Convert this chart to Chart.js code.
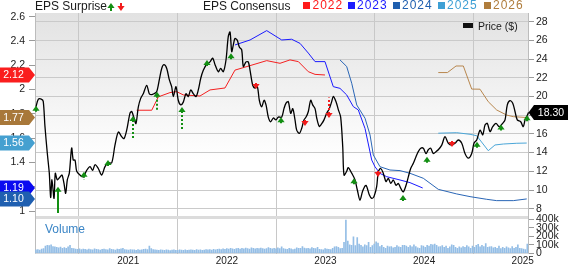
<!DOCTYPE html>
<html><head><meta charset="utf-8">
<script src="https://cdn.jsdelivr.net/npm/chart.js@4.4.1/dist/chart.umd.min.js"></script>
<style>
html,body{margin:0;padding:0;background:#fff;}
#wrap{position:relative;width:568px;height:264px;overflow:hidden;font-family:"Liberation Sans",Arial,sans-serif;}
#c{position:absolute;left:0;top:0;}
.t{position:absolute;white-space:nowrap;line-height:12px;font-size:12px;color:#1a1a1a;}
.sq{position:absolute;width:7px;height:7px;}
</style></head><body>
<div id="wrap">
<canvas id="c" width="568" height="264"></canvas>
<div class="t" style="left:35px;top:-0.2px;">EPS Surprise</div>
<div class="t" style="left:203px;top:-0.2px;">EPS Consensus</div>
<div class="sq" style="left:303px;top:1.7px;background:#ff1a1a"></div>
<div class="t" style="left:312.5px;top:-0.7px;color:#ff1a1a;letter-spacing:1px">2022</div>
<div class="sq" style="left:348px;top:1.7px;background:#1a1aff"></div>
<div class="t" style="left:357px;top:-0.7px;color:#1a1aff;letter-spacing:1px">2023</div>
<div class="sq" style="left:393px;top:1.7px;background:#1f5faf"></div>
<div class="t" style="left:402px;top:-0.7px;color:#1f5faf;letter-spacing:1px">2024</div>
<div class="sq" style="left:438px;top:1.7px;background:#3ea0d5"></div>
<div class="t" style="left:447px;top:-0.7px;color:#3ea0d5;letter-spacing:1px">2025</div>
<div class="sq" style="left:484px;top:1.7px;background:#b07d3c"></div>
<div class="t" style="left:493px;top:-0.7px;color:#b07d3c;letter-spacing:1px">2026</div>
<div style="position:absolute;left:463px;top:23px;width:10px;height:4.5px;background:#111"></div>
<div class="t" style="left:478px;top:20.6px;font-size:10.5px;line-height:11px;">Price ($)</div>
<div class="t" style="left:45px;top:222.5px;color:#3a85c6;">Volume</div>
</div>
<script>
// ---------------- DATA ----------------
const yearTicks = [2021, 2022, 2023, 2024, 2025];
const priceTicks = [8, 10, 12, 14, 16, 18, 20, 22, 24, 26, 28];
const epsTicks = [1, 1.2, 1.4, 1.6, 1.8, 2, 2.2, 2.4, 2.6];
const volumeTicks = [0, 100000, 200000, 300000, 400000];

// price: [decimal year, $]
const pricePoints = [
[2020.064,18.9],[2020.087,19.7],[2020.122,19.7],[2020.138,19.45],[2020.155,16.8],[2020.179,13.9],[2020.199,11.8],[2020.213,9.2],[2020.226,11.1],[2020.247,9.1],
[2020.260,11.8],[2020.280,11.1],[2020.308,11.4],[2020.328,11.6],[2020.348,10.7],[2020.365,9.65],[2020.382,11.1],[2020.402,11.8],[2020.426,14.5],[2020.442,13.2],
[2020.460,13.2],[2020.477,12.0],[2020.510,11.6],[2020.544,11.4],[2020.578,12.1],[2020.612,12.5],[2020.639,12.1],[2020.662,12.7],[2020.696,12.3],[2020.730,11.6],
[2020.764,12.5],[2020.797,12.9],[2020.832,12.9],[2020.865,14.8],[2020.899,16.2],[2020.933,15.7],[2020.957,15.5],[2020.984,16.4],[2021.017,18.2],[2021.035,18.4],
[2021.058,17.7],[2021.078,17.1],[2021.102,18.9],[2021.126,19.8],[2021.152,20.3],[2021.187,21.2],[2021.213,20.3],[2021.238,20.2],[2021.261,20.3],[2021.288,20.5],
[2021.315,21.8],[2021.339,23.0],[2021.362,23.4],[2021.390,23.0],[2021.416,21.8],[2021.440,21.05],[2021.457,20.0],[2021.484,21.05],[2021.507,19.6],[2021.532,19.1],
[2021.558,19.4],[2021.585,20.3],[2021.609,20.0],[2021.633,20.7],[2021.659,20.3],[2021.687,20.0],[2021.710,20.7],[2021.735,21.95],[2021.761,22.8],[2021.795,23.45],
[2021.829,23.7],[2021.856,24.1],[2021.880,23.4],[2021.913,22.65],[2021.937,23.0],[2021.964,22.65],[2021.991,23.9],[2022.014,26.4],[2022.032,26.9],[2022.049,24.8],
[2022.065,25.5],[2022.082,26.2],[2022.106,26.0],[2022.126,25.3],[2022.150,25.0],[2022.167,23.2],[2022.194,23.7],[2022.217,23.7],[2022.235,22.8],[2022.262,21.2],
[2022.285,20.9],[2022.309,21.05],[2022.329,19.6],[2022.353,18.9],[2022.377,19.6],[2022.397,19.1],[2022.420,17.8],[2022.444,17.3],[2022.471,17.7],[2022.498,17.5],
[2022.522,17.8],[2022.556,17.8],[2022.579,18.7],[2022.600,19.3],[2022.623,19.45],[2022.647,18.2],[2022.668,18.7],[2022.691,17.5],[2022.708,16.4],[2022.735,16.06],
[2022.759,16.6],[2022.782,17.5],[2022.803,17.8],[2022.826,18.4],[2022.850,19.6],[2022.870,19.1],[2022.894,18.7],[2022.911,17.7],[2022.937,16.8],[2022.962,17.1],
[2022.985,17.5],[2023.012,18.2],[2023.039,18.7],[2023.063,19.45],[2023.079,20.0],[2023.107,19.45],[2023.130,18.6],[2023.154,17.8],[2023.175,14.6],[2023.188,11.6],
[2023.215,12.0],[2023.231,12.4],[2023.266,11.8],[2023.299,11.1],[2023.323,10.0],[2023.350,8.9],[2023.377,9.9],[2023.411,10.5],[2023.444,9.5],[2023.469,9.1],
[2023.492,9.3],[2023.519,10.35],[2023.536,11.96],[2023.560,12.3],[2023.586,11.8],[2023.614,10.9],[2023.637,11.25],[2023.662,10.7],[2023.688,11.07],[2023.715,10.5],
[2023.739,10.7],[2023.763,10.2],[2023.789,9.8],[2023.817,10.5],[2023.840,11.4],[2023.864,12.3],[2023.891,12.85],[2023.918,13.56],[2023.941,14.1],[2023.966,14.46],
[2023.992,14.46],[2024.020,13.9],[2024.043,14.3],[2024.067,14.46],[2024.094,13.9],[2024.121,14.1],[2024.144,14.3],[2024.179,14.8],[2024.212,15.7],[2024.246,15.0],
[2024.280,14.8],[2024.314,15.0],[2024.347,15.35],[2024.382,15.0],[2024.415,13.9],[2024.449,13.4],[2024.483,13.9],[2024.506,15.0],[2024.534,15.35],[2024.567,16.4],
[2024.595,15.9],[2024.618,16.95],[2024.641,17.13],[2024.669,16.24],[2024.696,16.77],[2024.729,17.13],[2024.763,16.77],[2024.797,17.13],[2024.821,17.5],[2024.844,19.1],
[2024.871,19.55],[2024.899,19.27],[2024.922,18.4],[2024.945,17.5],[2024.980,17.3],[2025.006,16.77],[2025.024,17.5],[2025.047,18.0],[2025.059,18.3]
];

// EPS consensus per fiscal year: [decimal year, EPS]
const eps2022 = [[2021.085,1.83],[2021.238,1.83],[2021.305,1.94],[2021.423,1.975],[2021.491,1.983],[2021.558,1.956],[2021.727,1.947],[2021.829,1.997],[2021.981,2.013],[2022.082,2.16],[2022.235,2.197],[2022.404,2.238],[2022.539,2.216],[2022.640,2.244],[2022.725,2.23],[2022.826,2.147],[2022.894,2.125],[2022.995,2.12]];
const eps2023 = [[2022.082,2.367],[2022.235,2.408],[2022.404,2.485],[2022.556,2.408],[2022.657,2.414],[2022.742,2.38],[2022.826,2.30],[2022.894,2.23],[2022.995,2.23],[2023.079,2.024],[2023.147,2.01],[2023.215,1.956],[2023.282,1.86],[2023.333,1.832],[2023.401,1.68],[2023.469,1.42],[2023.502,1.365],[2023.553,1.31],[2023.621,1.283],[2023.756,1.256],[2023.857,1.234],[2023.986,1.19]];
const eps2024 = [[2023.147,2.244],[2023.215,2.19],[2023.266,2.052],[2023.317,1.873],[2023.401,1.764],[2023.452,1.626],[2023.485,1.462],[2023.553,1.365],[2023.654,1.338],[2023.756,1.333],[2023.857,1.311],[2023.992,1.27],[2024.144,1.179],[2024.331,1.141],[2024.466,1.119],[2024.635,1.097],[2024.736,1.086],[2024.905,1.086],[2025.041,1.10]];
const eps2025 = [[2024.144,1.641],[2024.331,1.645],[2024.466,1.632],[2024.534,1.62],[2024.567,1.585],[2024.651,1.497],[2024.719,1.544],[2024.804,1.552],[2024.940,1.558],[2025.041,1.56]];
const eps2026 = [[2024.144,2.14],[2024.237,2.14],[2024.324,2.194],[2024.398,2.194],[2024.483,2.004],[2024.567,2.003],[2024.651,1.90],[2024.736,1.832],[2024.838,1.79],[2024.905,1.777],[2025.041,1.77]];

// EPS surprise arrows: date, price at arrow tip, arrow length (price units)
const beatDates   = [2020.064,2020.290,2020.551,2020.797,2021.051,2021.295,2021.542,2021.795,2022.042,2022.546,2023.289,2023.789,2024.033,2024.534,2024.775,2025.041];
const beatPrices  = [19.0,10.35,11.96,13.21,17.91,20.51,18.88,23.9,24.62,17.78,11.25,9.47,13.56,15.17,17.0,18.0];
const beatLengths = [0.85,2.8,0.9,0.86,2.38,1.96,2.46,0.75,0.72,0.72,0.8,0.8,0.8,0.8,0.7,0.8];
const missDates   = [2022.292,2022.792,2023.039,2023.532,2024.280];
const missPrices  = [20.8,16.85,17.7,11.4,14.6];
const missLengths = [0.85,0.85,2.2,0.8,0.8];

// weekly volume, thousands of shares, starting the week of volumeStart
const volumeStart = 2020.064;
const volumeThousands = [
40,45,38,50,55,85,95,90,100,80,75,70,65,72,60,68,58,75,95,60,55,50,48,52,45,50,
48,42,50,45,40,52,47,44,38,46,50,43,41,55,48,45,39,50,47,52,60,44,40,38,45,42,
40,35,45,38,42,48,50,44,85,55,45,40,38,36,42,39,35,40,37,33,38,41,36,34,40,38,
36,40,34,38,42,37,35,44,39,41,36,38,45,40,43,37,46,42,48,50,45,52,47,55,50,58,
52,48,55,60,50,58,54,62,56,50,65,58,52,60,55,63,57,50,55,68,60,54,58,52,64,56,
75,55,50,48,60,52,45,50,65,58,60,78,62,55,60,52,68,58,55,70,48,45,40,55,50,48,
45,60,75,80,70,55,60,130,390,145,100,95,195,90,185,110,95,75,100,90,130,70,90,110,135,120,
80,95,70,60,85,75,80,65,70,90,75,70,95,95,85,70,90,75,100,80,65,60,90,85,70,95,
85,105,100,110,95,75,80,90,70,85,60,75,100,95,70,60,75,65,80,70,90,75,60,85,70,95,
105,75,95,80,115,70,75,80,65,70,60,85,55,70,60,75,65,55,80,60,70,100,60,55,50,45,110
];

// ---------------- CHART ----------------
const FONT = '"Liberation Sans", Arial, sans-serif';
const WEEK = 7 / 365.25;
const xy = arr => arr.map(([x, y]) => ({x, y}));
const volumeData = volumeThousands.map((v, i) => ({x: volumeStart + i * WEEK, y: v * 1000}));

const seriesStyle = [
  {data: eps2022, color: '#f42020'},
  {data: eps2023, color: '#1a1aff'},
  {data: eps2024, color: '#2a66b6'},
  {data: eps2025, color: '#4aa6d8'},
  {data: eps2026, color: '#b8874e'}
];
const badgeOrder = [
  {data: eps2022, color: '#fa1e1e'},
  {data: eps2026, color: '#a8783a'},
  {data: eps2025, color: '#45a0d0'},
  {data: eps2023, color: '#0a0af0'},
  {data: eps2024, color: '#1f5fb0'}
];

const panelPlugin = {
  id: 'panels',
  beforeDraw(chart) {
    const {ctx, chartArea: a, scales} = chart;
    const sep = scales.yPrice.bottom;
    ctx.save();
    const g = ctx.createLinearGradient(0, a.top, 0, sep);
    g.addColorStop(0, '#e2e2e2');
    g.addColorStop(0.72, '#ffffff');
    ctx.fillStyle = g;
    ctx.fillRect(a.left, a.top, a.right - a.left, sep - a.top);
    ctx.restore();
  },
  beforeDatasetsDraw(chart) {
    const {ctx, chartArea: a, scales} = chart;
    const sep = scales.yPrice.bottom;
    ctx.save();
    ctx.fillStyle = '#dcdcdc';
    ctx.fillRect(a.left, sep - 1, a.right - a.left, 3);
    ctx.strokeStyle = '#bcbcbc';
    ctx.lineWidth = 1;
    ctx.beginPath();
    ctx.moveTo(a.left + 0.5, a.top); ctx.lineTo(a.left + 0.5, a.bottom);
    ctx.moveTo(a.right - 0.5, a.top); ctx.lineTo(a.right - 0.5, a.bottom);
    ctx.moveTo(a.left, a.bottom - 0.5); ctx.lineTo(a.right, a.bottom - 0.5);
    ctx.stroke();
    ctx.restore();
  }
};

function drawArrow(ctx, px, tip, tail, up, color, solid) {
  const dir = up ? 1 : -1;
  ctx.strokeStyle = color; ctx.fillStyle = color; ctx.lineWidth = 2;
  ctx.setLineDash(solid ? [] : [2, 2]);
  ctx.beginPath(); ctx.moveTo(px, tip + dir * 4); ctx.lineTo(px, tail); ctx.stroke();
  ctx.setLineDash([]);
  ctx.beginPath();
  ctx.moveTo(px, tip); ctx.lineTo(px - 3.6, tip + dir * 5); ctx.lineTo(px + 3.6, tip + dir * 5);
  ctx.closePath(); ctx.fill();
}

const arrowPlugin = {
  id: 'surprise',
  afterDatasetsDraw(chart) {
    const {ctx, scales: {x, yPrice}} = chart;
    ctx.save();
    beatDates.forEach((t, i) => {
      const px = Math.round(x.getPixelForValue(t));
      drawArrow(ctx, px, yPrice.getPixelForValue(beatPrices[i]),
        yPrice.getPixelForValue(beatPrices[i] - beatLengths[i]), true, '#138f13', beatLengths[i] > 2.6);
    });
    missDates.forEach((t, i) => {
      const px = Math.round(x.getPixelForValue(t));
      drawArrow(ctx, px, yPrice.getPixelForValue(missPrices[i]),
        yPrice.getPixelForValue(missPrices[i] + missLengths[i]), false, '#f21c1c', missLengths[i] > 2.6);
    });
    ctx.restore();
  },
  afterDraw(chart) {
    const ctx = chart.ctx;
    ctx.save();
    drawArrow(ctx, 111, 3, 11, true, '#138f13', true);
    drawArrow(ctx, 121, 11, 3, false, '#f21c1c', true);
    ctx.restore();
  }
};

const badgePlugin = {
  id: 'badges',
  afterDraw(chart) {
    const {ctx, scales: {yEps, yPrice}, chartArea: a} = chart;
    ctx.save();
    ctx.font = '10.5px ' + FONT;
    ctx.textAlign = 'center';
    ctx.textBaseline = 'middle';
    badgeOrder.forEach(s => {
      const v = s.data[s.data.length - 1][1];
      const y = yEps.getPixelForValue(v);
      ctx.fillStyle = s.color;
      ctx.beginPath();
      ctx.moveTo(0, y - 7.5); ctx.lineTo(29, y - 7.5); ctx.lineTo(a.left, y);
      ctx.lineTo(29, y + 7.5); ctx.lineTo(0, y + 7.5); ctx.closePath(); ctx.fill();
      ctx.fillStyle = '#fff';
      ctx.fillText(v.toFixed(2), 13.5, y + 0.5);
    });
    const last = pricePoints[pricePoints.length - 1][1];
    const y = yPrice.getPixelForValue(last);
    const r = a.right;
    ctx.fillStyle = '#000';
    ctx.beginPath();
    ctx.moveTo(r - 0.5, y); ctx.lineTo(r + 5, y - 7.5); ctx.lineTo(chart.width, y - 7.5);
    ctx.lineTo(chart.width, y + 7.5); ctx.lineTo(r + 5, y + 7.5); ctx.closePath(); ctx.fill();
    ctx.fillStyle = '#fff';
    ctx.fillText(last.toFixed(2), (r + 5 + chart.width) / 2, y + 0.5);
    ctx.restore();
  }
};

const tickFont = {family: FONT, size: 10.5};
const datasets = [
  {label: 'Price ($)', data: xy(pricePoints), yAxisID: 'yPrice', borderColor: '#000', borderWidth: 1.3,
   pointRadius: 0, tension: 0.3, fill: false}
].concat(seriesStyle.map((s, i) => ({
  label: String(2022 + i), data: xy(s.data), yAxisID: 'yEps', borderColor: s.color, borderWidth: 1,
  pointRadius: 0, tension: 0, fill: false
}))).concat([
  {type: 'bar', label: 'Volume', data: volumeData, yAxisID: 'yVol', backgroundColor: '#94bee6',
   borderWidth: 0, barThickness: 1, grouped: false}
]);

new Chart(document.getElementById('c'), {
  type: 'line',
  data: {datasets},
  options: {
    responsive: false, animation: false, devicePixelRatio: 1,
    layout: {padding: {top: 13, left: 0, right: 0, bottom: 0}},
    plugins: {legend: {display: false}, tooltip: {enabled: false}, title: {display: false}},
    events: [],
    scales: {
      x: {
        type: 'linear', min: 2020.054, max: 2025.064, offset: false,
        afterBuildTicks: s => { s.ticks = yearTicks.map(v => ({value: v})); },
        afterFit: s => { s.height = 10.5; },
        ticks: {callback: v => String(v), font: {family: FONT, size: 10}, color: '#222', padding: 1.5,
                maxRotation: 0, autoSkip: false},
        grid: {color: '#c8c8c8', drawTicks: false},
        border: {display: false}
      },
      yEps: {
        type: 'linear', position: 'left', min: 0.651, max: 2.630,
        afterBuildTicks: s => { s.ticks = epsTicks.map(v => ({value: v})); },
        afterFit: s => { s.width = 35; },
        ticks: {callback: v => String(+v.toFixed(1)), font: tickFont, color: '#222', padding: 4, autoSkip: false},
        grid: {drawOnChartArea: false, tickColor: '#9a9a9a', tickLength: 6},
        border: {display: false}
      },
      yPrice: {
        type: 'linear', position: 'right', stack: 'right', stackWeight: 204, weight: 0,
        min: 7.113, max: 28.93,
        afterBuildTicks: s => { s.ticks = priceTicks.map(v => ({value: v})); },
        afterFit: s => { s.width = 39; },
        ticks: {callback: v => String(v), font: tickFont, color: '#222', padding: 2, autoSkip: false},
        grid: {color: '#cacaca', tickColor: '#9a9a9a', tickLength: 5},
        border: {display: false}
      },
      yVol: {
        type: 'linear', position: 'right', stack: 'right', stackWeight: 36.5, weight: 1,
        min: -2000, max: 427000,
        afterBuildTicks: s => { s.ticks = volumeTicks.map(v => ({value: v})); },
        afterFit: s => { s.width = 39; },
        ticks: {callback: v => v === 0 ? '0' : (v / 1000) + 'k', font: tickFont, color: '#222', padding: 2, autoSkip: false},
        grid: {drawOnChartArea: false, tickColor: '#9a9a9a', tickLength: 5},
        border: {display: false}
      }
    }
  },
  plugins: [panelPlugin, arrowPlugin, badgePlugin]
});
</script>
</body></html>
